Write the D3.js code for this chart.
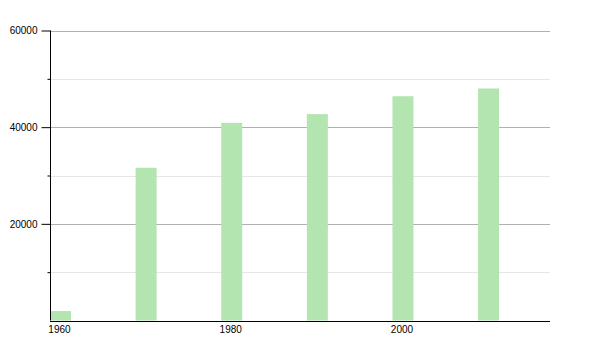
<!DOCTYPE html>
<html>
<head>
<meta charset="utf-8">
<script src="https://cdn.jsdelivr.net/npm/d3@7"></script>
<style>
body{margin:0;background:#fff;}
svg{display:block;font-family:"Liberation Sans",Arial,sans-serif;}
</style>
</head>
<body>
<svg id="chart" width="600" height="350"></svg>
<script>
const years = [1960, 1970, 1980, 1990, 2000, 2010];
const values = [1950, 31600, 40900, 42700, 46400, 48000];
const xTickYears = [1960, 1980, 2000];
const yMajorTicks = [20000, 40000, 60000];
const yMinorTicks = [10000, 30000, 50000];

(function () {
const svg = d3.select("#chart");
const mLeft = 50, mRight = 550, mTop = 30.5, mBottom = 320.5;
const barYears = 2.45;

const x = d3.scaleLinear().domain([1960, 2018.4]).range([mLeft, mRight]);
const y = d3.scaleLinear().domain([0, 60000]).range([mBottom, mTop]);

// minor gridlines
svg.append("g").selectAll("line").data(yMinorTicks).join("line")
  .attr("x1", mLeft).attr("x2", mRight)
  .attr("y1", d => Math.round(y(d)) + 0.5).attr("y2", d => Math.round(y(d)) + 0.5)
  .attr("stroke", "#e6e6e6").attr("stroke-width", 1);
// major gridlines
svg.append("g").selectAll("line").data(yMajorTicks).join("line")
  .attr("x1", mLeft).attr("x2", mRight)
  .attr("y1", d => Math.round(y(d)) + 0.5).attr("y2", d => Math.round(y(d)) + 0.5)
  .attr("stroke", "#b0b0b0").attr("stroke-width", 1);

// bars
svg.append("g").selectAll("rect").data(years).join("rect")
  .attr("x", d => x(d))
  .attr("width", d => x(d + barYears) - x(d))
  .attr("y", (d, i) => y(values[i]))
  .attr("height", (d, i) => y(0) - y(values[i]))
  .attr("fill", "#b2e5b0");

// y axis major
const yAxis = d3.axisLeft(y).tickValues(yMajorTicks).tickSize(9).tickPadding(4).tickFormat(d3.format("d"));
const gy = svg.append("g").attr("transform", `translate(${mLeft + 0.5},0)`).call(yAxis);
gy.select(".domain").attr("d", `M0,${y(0)}V${y(60000)}`).attr("stroke", "#000");
gy.selectAll(".tick line").attr("stroke", "#000");
gy.selectAll(".tick text").attr("font-size", 10).attr("fill", "#000").attr("font-family", "Liberation Sans, Arial, sans-serif");
// y minor ticks
const yMinorAxis = d3.axisLeft(y).tickValues(yMinorTicks).tickSize(3).tickFormat("");
const gym = svg.append("g").attr("transform", `translate(${mLeft + 0.5},0)`).call(yMinorAxis);
gym.select(".domain").remove();
gym.selectAll(".tick line").attr("stroke", "#000");

// x axis
const xAxis = d3.axisBottom(x).tickValues(xTickYears).tickSize(0).tickPadding(4).tickFormat(d3.format("d"));
const gx = svg.append("g").attr("transform", `translate(0,${Math.round(mBottom) + 0.5})`).call(xAxis);
gx.select(".domain").attr("d", `M${mLeft},0H${mRight}`).attr("stroke", "#000");
gx.selectAll(".tick").attr("transform", d => `translate(${x(d + barYears / 2) - 1},0)`);
gx.selectAll(".tick text").attr("font-size", 10).attr("fill", "#000").attr("font-family", "Liberation Sans, Arial, sans-serif");
})();
</script>
</body>
</html>
